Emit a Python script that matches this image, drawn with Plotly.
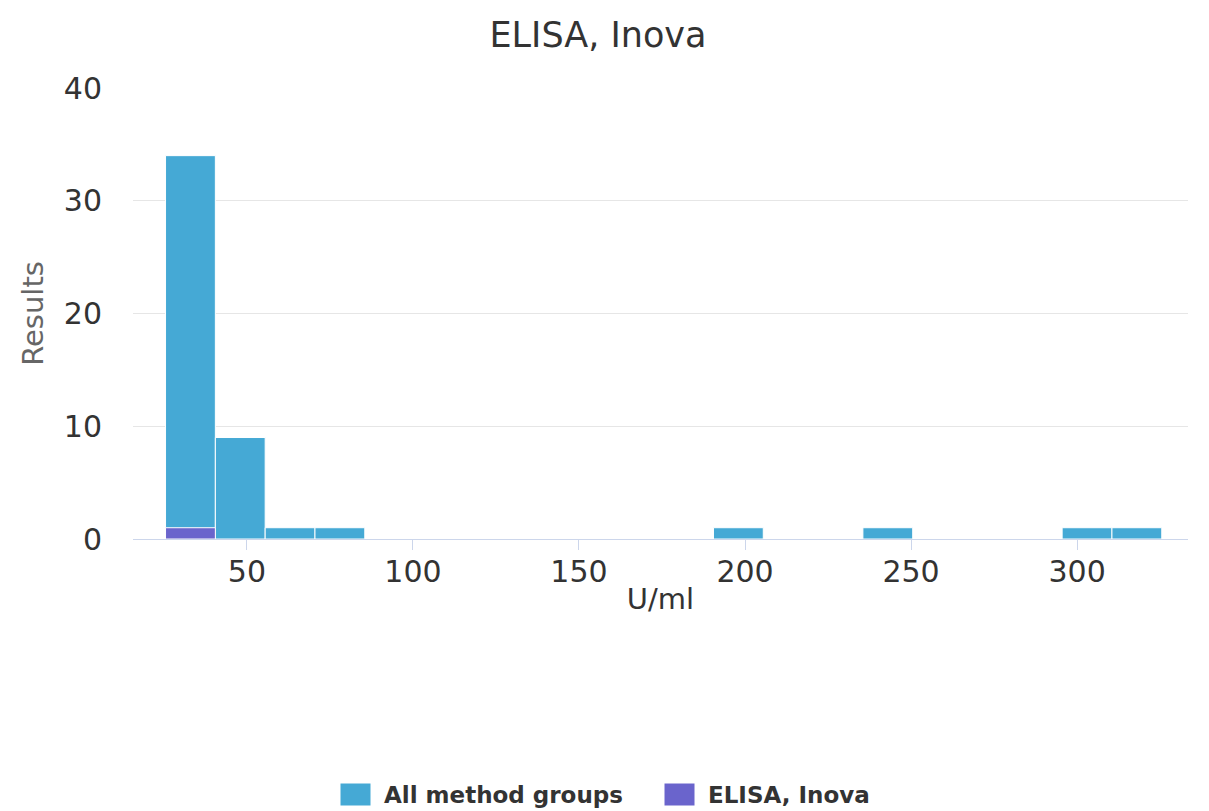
import plotly.graph_objects as go

# Histogram bins (U/ml), width 15
bin_centers = [33, 48, 63, 78, 198, 243, 303, 318]
all_counts = [34, 9, 1, 1, 1, 1, 1, 1]
elisa_centers = [33]
elisa_counts = [1]
bin_width = 15

series_names = ["All method groups", "ELISA, Inova"]
series_colors = ["#45a9d5", "#6a64cc"]

FONT = "DejaVu Sans"
TEXT = "#333333"

# the page puts the figure 8px in from the top-left corner
OFF = 8
FIG_W, FIG_H = 1209, 811
# plot area in figure pixels (used to place the hand-drawn legend)
L, R, T, B = 133 - OFF, 1188 - OFF, 88 - OFF, 539 - OFF
W, H = R - L, B - T


def px_x(p):
    return (p - OFF - L) / W


def px_y(p):
    return (B - (p - OFF)) / H


fig = go.Figure()
fig.add_trace(go.Bar(
    x=bin_centers, y=all_counts, width=bin_width,
    name=series_names[0], marker_color=series_colors[0],
    marker_line=dict(color="white", width=1), showlegend=False,
))
fig.add_trace(go.Bar(
    x=elisa_centers, y=elisa_counts, width=bin_width,
    name=series_names[1], marker_color=series_colors[1],
    marker_line=dict(color="white", width=1), showlegend=False,
))

# legend drawn manually (bigger swatches than plotly allows); screen pixels
legend_swatch_x = [340, 664]
for sx, name, color in zip(legend_swatch_x, series_names, series_colors):
    fig.add_shape(type="rect", xref="paper", yref="paper",
                  x0=px_x(sx), x1=px_x(sx + 31), y0=px_y(806), y1=px_y(783),
                  fillcolor=color, line=dict(color="white", width=1))
    fig.add_annotation(text=f"<b>{name}</b>", xref="paper", yref="paper",
                       x=px_x(sx + 42), y=px_y(795), xanchor="left", yanchor="middle",
                       showarrow=False, font=dict(family=FONT, size=23, color=TEXT))

fig.update_layout(
    barmode="overlay",
    width=FIG_W, height=FIG_H,
    margin=dict(l=L, r=FIG_W - R, t=T, b=FIG_H - B, autoexpand=False),
    plot_bgcolor="white", paper_bgcolor="white",
    title=dict(text="ELISA, Inova", x=(598 - OFF) / FIG_W, xanchor="center",
               y=1 - (35 - OFF) / FIG_H, yanchor="middle",
               font=dict(family=FONT, size=35, color=TEXT)),
    font=dict(family=FONT, color=TEXT),
    showlegend=False,
)
fig.update_xaxes(
    range=[15.7, 333.4], tickvals=[50, 100, 150, 200, 250, 300],
    showgrid=False, showline=True, linecolor="#ccd6eb", linewidth=1,
    ticks="outside", ticklen=10, tickcolor="#ccd6eb", ticklabelstandoff=-4,
    tickfont=dict(family=FONT, size=30, color=TEXT),
    title=dict(text="U/ml", standoff=0, font=dict(family=FONT, size=29, color=TEXT)),
    zeroline=False, automargin=False,
)
fig.update_yaxes(
    range=[0, 40], tickvals=[0, 10, 20, 30, 40],
    showgrid=True, gridcolor="#e6e6e6", gridwidth=1,
    showline=False, zeroline=False, ticks="", ticklabelstandoff=30,
    tickfont=dict(family=FONT, size=30, color=TEXT),
    title=dict(text="Results", standoff=11, font=dict(family=FONT, size=29, color="#666666")),
    automargin=False,
)

fig.write_html("out.html")
